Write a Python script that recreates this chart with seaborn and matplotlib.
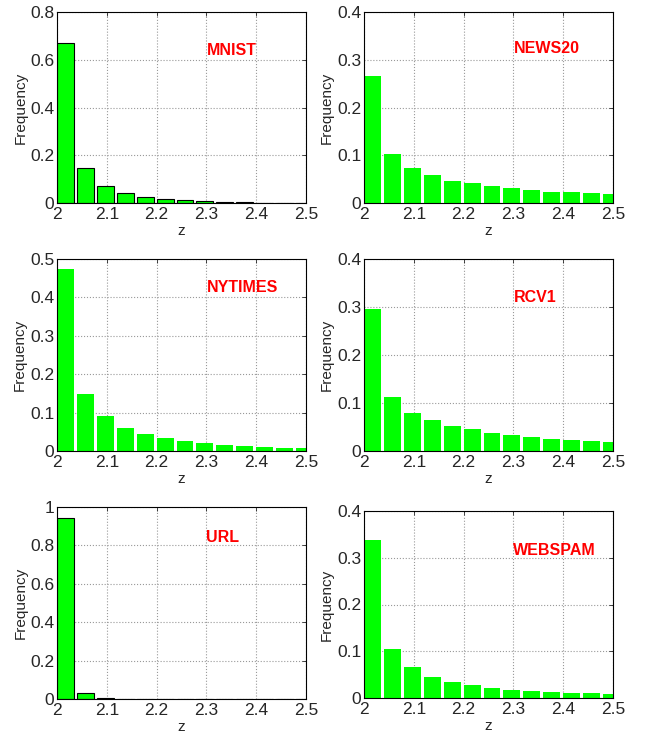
import numpy as np
import pandas as pd
import matplotlib
matplotlib.use("Agg")
import matplotlib.pyplot as plt
from matplotlib.ticker import FormatStrFormatter
import seaborn as sns

# bin centres of z (13 bins of width 0.04 from 2 up to 2.5)
z_bins = [2.017, 2.057, 2.097, 2.137, 2.177, 2.217, 2.257,
          2.297, 2.337, 2.377, 2.417, 2.457, 2.497]

mnist = [0.672, 0.148, 0.073, 0.041, 0.027, 0.018, 0.011,
         0.007, 0.005, 0.003, 0.002, 0.0015, 0.001]
news20 = [0.267, 0.102, 0.073, 0.058, 0.047, 0.041, 0.035,
          0.031, 0.027, 0.024, 0.022, 0.020, 0.018]
nytimes = [0.474, 0.148, 0.090, 0.061, 0.0435, 0.033, 0.025,
           0.020, 0.015, 0.012, 0.0096, 0.0087, 0.007]
rcv1 = [0.295, 0.112, 0.079, 0.0655, 0.0516, 0.045, 0.0376,
        0.033, 0.0286, 0.026, 0.022, 0.020, 0.018]
url = [0.942, 0.031, 0.005, 0.002, 0.0015, 0.001, 0.001,
       0.0008, 0.0006, 0.0005, 0.0004, 0.0003, 0.0003]
webspam = [0.337, 0.105, 0.067, 0.0455, 0.035, 0.027, 0.022,
           0.018, 0.0156, 0.0135, 0.011, 0.010, 0.009]

names = ["MNIST", "NEWS20", "NYTIMES", "RCV1", "URL", "WEBSPAM"]
series = [mnist, news20, nytimes, rcv1, url, webspam]
y_max = [0.8, 0.4, 0.5, 0.4, 1.0, 0.4]
y_step = [0.2, 0.1, 0.1, 0.1, 0.2, 0.1]
label_y = [0.80, 0.81, 0.85, 0.80, 0.84, 0.79]   # axes fraction
outlined = [True, False, False, False, True, False]

sns.set_style("white")
plt.rcParams["font.family"] = ["Liberation Sans", "DejaVu Sans"]

fig = plt.figure(figsize=(6.49, 7.32), dpi=100)
W, H = 649, 732
# axes boxes in pixels: (left, top, right, bottom)
boxes = [(57, 12, 306, 203), (364, 12, 613, 203),
         (57, 259, 306, 451), (364, 259, 613, 451),
         (57, 507, 306, 699), (364, 511, 613, 698)]

for name, vals, ym, ys, ly, edge, (l, t, r, b) in zip(
        names, series, y_max, y_step, label_y, outlined, boxes):
    ax = fig.add_axes([l / W, 1 - b / H, (r - l) / W, (b - t) / H])
    df = pd.DataFrame({"z": z_bins, "Frequency": vals})
    sns.barplot(data=df, x="z", y="Frequency", native_scale=True,
                width=0.85, color="#00ff00", saturation=1,
                edgecolor="black" if edge else "none",
                linewidth=0.8 if edge else 0, ax=ax, zorder=2)
    ax.set_xlim(2, 2.5)
    ax.set_ylim(0, ym)
    ax.set_xticks(np.arange(2, 2.501, 0.1))
    ax.set_yticks(np.arange(0, ym + 1e-9, ys))
    ax.xaxis.set_major_formatter(FormatStrFormatter("%g"))
    ax.yaxis.set_major_formatter(FormatStrFormatter("%g"))
    ax.tick_params(direction="in", length=3, labelsize=12.5, width=0.6,
                   top=True, right=True, pad=2)
    ax.tick_params(axis="x", pad=3)
    ax.grid(True, linestyle=":", color="#999999", linewidth=0.8, zorder=0)
    ax.set_axisbelow(True)
    for sp in ax.spines.values():
        sp.set_visible(True)
        sp.set_color("black")
        sp.set_linewidth(0.8)
    ax.set_xlabel("z", fontsize=11, labelpad=1.5)
    ax.set_ylabel("Frequency", fontsize=11, labelpad=2)
    ax.text(0.6, ly, name, transform=ax.transAxes, color="red",
            fontsize=11.5, fontweight="bold", ha="left", va="center")

fig.savefig("out.png", dpi=100)
